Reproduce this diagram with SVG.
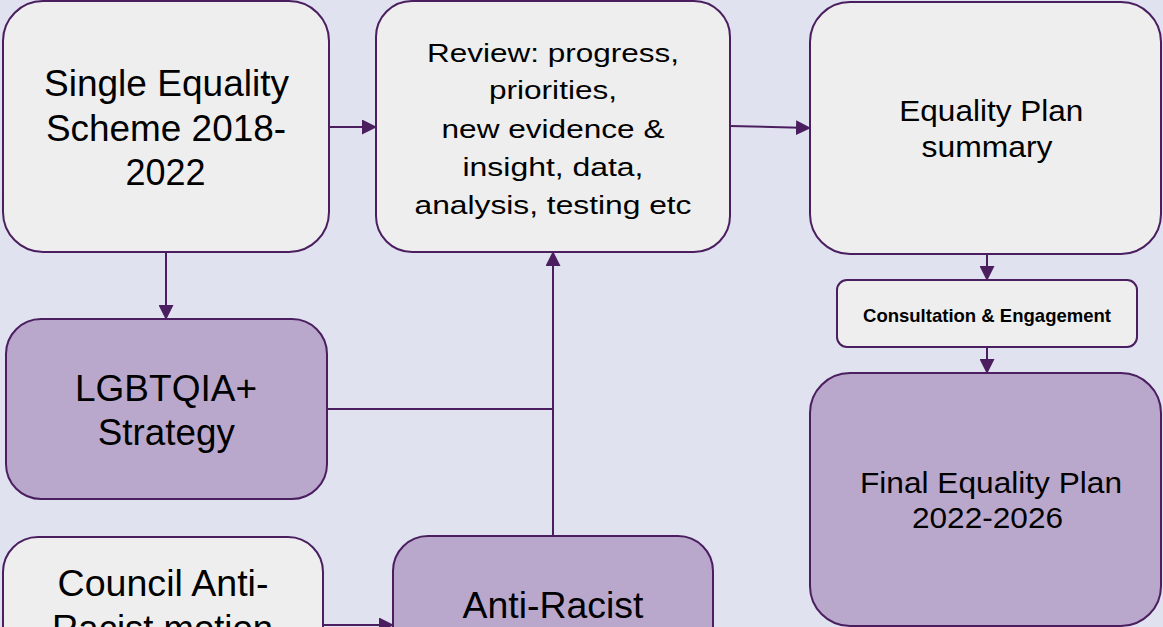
<svg xmlns="http://www.w3.org/2000/svg" width="1163" height="627" viewBox="0 0 1163 627">
  <style>
    .bg { fill: #e0e2f0; }
    .box { stroke: #4a1e5f; stroke-width: 2; }
    .light { fill: #eeeeee; }
    .purple { fill: #baa8cc; }
    .t { font-family: "Liberation Sans", Arial, sans-serif; fill: #000; text-anchor: middle; }
    .big { font-size: 36px; }
    .mid { font-size: 30px; }
    .rev { font-size: 25.5px; }
    .small { font-size: 18.5px; font-weight: bold; }
    .conn { stroke: #4a1e5f; stroke-width: 2; fill: none; marker-end: url(#arrow); }
    .plain { stroke: #4a1e5f; stroke-width: 2; fill: none; }
  </style>
  <defs>
    <marker id="arrow" markerUnits="userSpaceOnUse" markerWidth="15" markerHeight="15" refX="14" refY="7.5" orient="auto">
      <path d="M0,0 L15,7.5 L0,15 z" fill="#4a1e5f"/>
    </marker>
  </defs>
  <rect class="bg" x="0" y="0" width="1163" height="627"/>

  <g id="connectors">
    <path class="conn" d="M329,127 L376,127"/>
    <path class="conn" d="M730,126 L810,128"/>
    <path class="conn" d="M166,252 L166,319"/>
    <path class="plain" d="M327,409 L553,409"/>
    <path class="conn" d="M553,536 L553,252"/>
    <path class="conn" d="M323,625 L393,625"/>
    <path class="conn" d="M987,254 L987,280"/>
    <path class="conn" d="M987,347 L987,373"/>
  </g>

  <g id="single-equality">
    <rect class="box light" x="3" y="1" width="326" height="251" rx="40" ry="40"/>
    <text class="t big" x="166.5" y="96" textLength="245" lengthAdjust="spacingAndGlyphs">Single Equality</text>
    <text class="t big" x="166" y="140.7" textLength="240" lengthAdjust="spacingAndGlyphs">Scheme 2018-</text>
    <text class="t big" x="165.5" y="185">2022</text>
  </g>

  <g id="review">
    <rect class="box light" x="376" y="1" width="354" height="251" rx="36" ry="36"/>
    <text class="t rev" x="553" y="61.7" textLength="252" lengthAdjust="spacingAndGlyphs">Review: progress,</text>
    <text class="t rev" x="553" y="99" textLength="128" lengthAdjust="spacingAndGlyphs">priorities,</text>
    <text class="t rev" x="553" y="137.5" textLength="223" lengthAdjust="spacingAndGlyphs">new evidence &amp;</text>
    <text class="t rev" x="553" y="176" textLength="181" lengthAdjust="spacingAndGlyphs">insight, data,</text>
    <text class="t rev" x="553" y="214.3" textLength="277" lengthAdjust="spacingAndGlyphs">analysis, testing etc</text>
  </g>

  <g id="equality-plan-summary">
    <rect class="box light" x="810" y="2" width="351" height="252" rx="40" ry="40"/>
    <text class="t mid" x="991.3" y="120.7" textLength="184" lengthAdjust="spacingAndGlyphs">Equality Plan</text>
    <text class="t mid" x="987" y="157.3" textLength="131" lengthAdjust="spacingAndGlyphs">summary</text>
  </g>

  <g id="consultation">
    <rect class="box light" x="837" y="280" width="300" height="67" rx="10" ry="10"/>
    <text class="t small" x="987" y="321.7" textLength="248" lengthAdjust="spacingAndGlyphs">Consultation &amp; Engagement</text>
  </g>

  <g id="final-plan">
    <rect class="box purple" x="810" y="373" width="351" height="253" rx="40" ry="40"/>
    <text class="t" style="font-size:29px" x="991" y="492.7" textLength="262" lengthAdjust="spacingAndGlyphs">Final Equality Plan</text>
    <text class="t" style="font-size:29px" x="987.5" y="528.3" textLength="151" lengthAdjust="spacingAndGlyphs">2022-2026</text>
  </g>

  <g id="lgbtqia">
    <rect class="box purple" x="6" y="319" width="321" height="180" rx="35" ry="35"/>
    <text class="t big" x="166" y="400.7" textLength="182" lengthAdjust="spacingAndGlyphs">LGBTQIA+</text>
    <text class="t big" x="166.3" y="445" textLength="137" lengthAdjust="spacingAndGlyphs">Strategy</text>
  </g>

  <g id="council-motion">
    <rect class="box light" x="3" y="537" width="320" height="160" rx="35" ry="35"/>
    <text class="t big" x="163" y="596" textLength="211" lengthAdjust="spacingAndGlyphs">Council Anti-</text>
    <text class="t big" x="162.5" y="640.5" textLength="221" lengthAdjust="spacingAndGlyphs">Racist motion</text>
  </g>

  <g id="anti-racist">
    <rect class="box purple" x="393" y="536" width="320" height="160" rx="35" ry="35"/>
    <text class="t big" x="553" y="618" textLength="181" lengthAdjust="spacingAndGlyphs">Anti-Racist</text>
  </g>
</svg>
